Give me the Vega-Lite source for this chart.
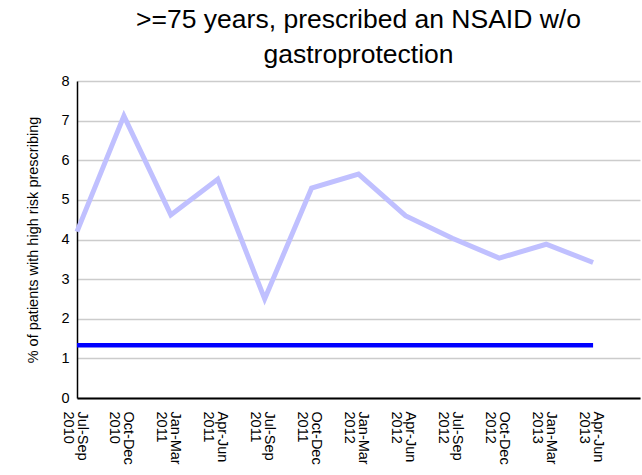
{
  "$schema": "https://vega.github.io/schema/vega-lite/v6.json",
  "autosize": "none",
  "width": 563,
  "height": 317,
  "padding": {"left": 77, "top": 81, "right": 2, "bottom": 77},
  "background": "white",
  "config": {
    "font": "Liberation Sans",
    "view": {"stroke": null}
  },
  "title": {
    "text": [">=75 years, prescribed an NSAID w/o", "gastroprotection"],
    "fontSize": 26.5,
    "fontWeight": "normal",
    "lineHeight": 34.5,
    "color": "black",
    "baseline": "bottom",
    "offset": 8,
    "dy": 30,
    "font": "Liberation Sans"
  },
  "data": {
    "values": [
      {"quarter": "Jul-Sep 2010", "series": "practice", "value": 4.2},
      {"quarter": "Oct-Dec 2010", "series": "practice", "value": 7.12},
      {"quarter": "Jan-Mar 2011", "series": "practice", "value": 4.62},
      {"quarter": "Apr-Jun 2011", "series": "practice", "value": 5.52},
      {"quarter": "Jul-Sep 2011", "series": "practice", "value": 2.5},
      {"quarter": "Oct-Dec 2011", "series": "practice", "value": 5.3},
      {"quarter": "Jan-Mar 2012", "series": "practice", "value": 5.65},
      {"quarter": "Apr-Jun 2012", "series": "practice", "value": 4.6},
      {"quarter": "Jul-Sep 2012", "series": "practice", "value": 4.03},
      {"quarter": "Oct-Dec 2012", "series": "practice", "value": 3.53},
      {"quarter": "Jan-Mar 2013", "series": "practice", "value": 3.88},
      {"quarter": "Apr-Jun 2013", "series": "practice", "value": 3.42},
      {"quarter": "Jul-Sep 2010", "series": "target", "value": 1.33},
      {"quarter": "Oct-Dec 2010", "series": "target", "value": 1.33},
      {"quarter": "Jan-Mar 2011", "series": "target", "value": 1.33},
      {"quarter": "Apr-Jun 2011", "series": "target", "value": 1.33},
      {"quarter": "Jul-Sep 2011", "series": "target", "value": 1.33},
      {"quarter": "Oct-Dec 2011", "series": "target", "value": 1.33},
      {"quarter": "Jan-Mar 2012", "series": "target", "value": 1.33},
      {"quarter": "Apr-Jun 2012", "series": "target", "value": 1.33},
      {"quarter": "Jul-Sep 2012", "series": "target", "value": 1.33},
      {"quarter": "Oct-Dec 2012", "series": "target", "value": 1.33},
      {"quarter": "Jan-Mar 2013", "series": "target", "value": 1.33},
      {"quarter": "Apr-Jun 2013", "series": "target", "value": 1.33}
    ]
  },
  "mark": {"type": "line", "strokeCap": "butt", "strokeJoin": "miter"},
  "encoding": {
    "x": {
      "field": "quarter",
      "type": "ordinal",
      "sort": null,
      "scale": {
        "type": "point",
        "padding": 0,
        "domain": ["Jul-Sep 2010", "Oct-Dec 2010", "Jan-Mar 2011", "Apr-Jun 2011", "Jul-Sep 2011", "Oct-Dec 2011", "Jan-Mar 2012", "Apr-Jun 2012", "Jul-Sep 2012", "Oct-Dec 2012", "Jan-Mar 2013", "Apr-Jun 2013", "_end"]
      },
      "axis": {
        "title": null,
        "labelExpr": "datum.value == '_end' ? '' : split(datum.value, ' ')",
        "labelAngle": 90,
        "labelAlign": "left",
        "labelBaseline": "alphabetic",
        "labelFontSize": 14.5,
        "labelLineHeight": 14,
        "labelColor": "black",
        "labelPadding": 13,
        "ticks": false,
        "grid": false,
        "domainColor": "black",
        "domainWidth": 2,
        "labelOverlap": false,
        "labelBound": false
      }
    },
    "y": {
      "field": "value",
      "type": "quantitative",
      "scale": {"domain": [0, 8], "nice": false},
      "axis": {
        "title": "% of patients with high risk prescribing",
        "titleFontSize": 14.5,
        "titleFontWeight": "normal",
        "titleColor": "black",
        "titlePadding": 20,
        "values": [0, 1, 2, 3, 4, 5, 6, 7, 8],
        "labelFontSize": 14.5,
        "labelColor": "black",
        "labelPadding": 8,
        "ticks": false,
        "grid": true,
        "gridColor": "#cccccc",
        "gridWidth": 1.5,
        "domainColor": "black",
        "domainWidth": 1.5
      }
    },
    "color": {
      "field": "series",
      "type": "nominal",
      "scale": {"domain": ["practice", "target"], "range": ["#c0c0ff", "#0000ff"]},
      "legend": null
    },
    "strokeWidth": {
      "field": "series",
      "type": "nominal",
      "scale": {"domain": ["practice", "target"], "range": [5, 4.5]},
      "legend": null
    }
  }
}
